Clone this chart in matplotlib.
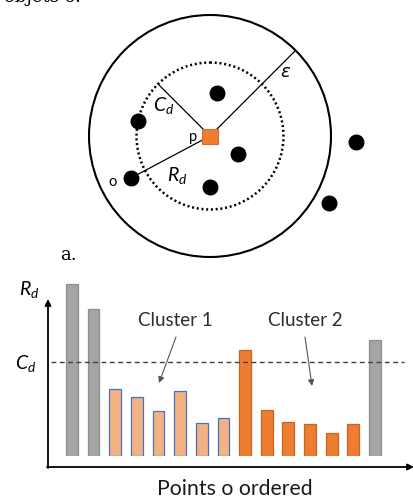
import numpy as np
import matplotlib
matplotlib.use('agg')
import matplotlib.pyplot as plt
from matplotlib.patches import Circle, Rectangle

plt.rcParams['font.family'] = ['Lato', 'DejaVu Sans']
plt.rcParams['mathtext.fontset'] = 'custom'
plt.rcParams['mathtext.it'] = 'Lato:italic'
plt.rcParams['mathtext.rm'] = 'Lato'

# neighbourhood sketch (pixel positions of the objects)
pt_x = [217, 138, 238, 210, 131, 356, 329]
pt_y = [93, 121, 154, 187, 178, 142, 203]
p_center = (210, 136)
eps_radius = 121
cd_radius = 73.5

# reachability bars
bar_heights = [172, 147, 67, 59, 45, 65, 33, 38, 106, 46, 34, 32, 23, 32, 116]
bar_groups = ['noise', 'noise', 'c1', 'c1', 'c1', 'c1', 'c1', 'c1',
              'c2', 'c2', 'c2', 'c2', 'c2', 'c2', 'noise']
cd_level = 94

fill = {'noise': '#a5a5a5', 'c1': '#f4b183', 'c2': '#ed7d31'}
edge = {'noise': '#8f8f8f', 'c1': '#4472c4', 'c2': '#c9651f'}

fig = plt.figure(figsize=(4.14, 5.04), dpi=100)
ax = fig.add_axes([0, 0, 1, 1])
ax.set_xlim(0, 414)
ax.set_ylim(504, 0)
ax.axis('off')

# cut-off caption line from the page above
ax.text(81, 2, 'objets o.', family='DejaVu Serif', fontsize=13,
        ha='right', va='baseline')

ax.add_patch(Circle(p_center, eps_radius, fill=False, lw=1.5, ec='black'))
ax.add_patch(Circle(p_center, cd_radius, fill=False, lw=1.8, ec='black',
                    ls=(0, (0.8, 1.1))))

cx, cy = p_center
c45 = np.cos(np.pi / 4)
ax.plot([cx, cx + eps_radius * c45], [cy, cy - eps_radius * c45], color='black', lw=0.9)
ax.plot([cx, cx - cd_radius * c45], [cy, cy - cd_radius * c45], color='black', lw=0.9)
ax.plot([cx, pt_x[4]], [cy, pt_y[4]], color='black', lw=0.9)

ax.add_patch(Rectangle((cx - 8, cy - 7.5), 16, 15, fc='#ed7d31', ec='#d0702c', lw=0.8, zorder=3))
ax.scatter(pt_x, pt_y, s=110, c='black', zorder=4)

ax.text(164, 106, r'$C_d$', fontsize=14, ha='center', va='center')
ax.text(285, 72, 'ε', family='DejaVu Sans', style='italic', fontsize=13, ha='center', va='center')
ax.text(193, 137, 'p', fontsize=10.5, ha='center', va='center')
ax.text(177, 175, r'$R_d$', fontsize=14, ha='center', va='center')
ax.text(113, 182, 'o', fontsize=10.5, ha='center', va='center')

ax.text(68, 255, 'a.', family='DejaVu Serif', fontsize=13, ha='center', va='center')

# bar chart
bx = fig.add_axes([48 / 414, 1 - 455.7 / 504, 366 / 414, 175.7 / 504])
bx.set_xlim(-1.094, 15.80)
bx.set_ylim(0, 175.7)
bx.axis('off')
xs = np.arange(len(bar_heights))
bx.bar(xs, bar_heights, width=0.54,
       color=[fill[g] for g in bar_groups],
       edgecolor=[edge[g] for g in bar_groups], linewidth=0.9)
bx.hlines(cd_level, -0.95, 15.35, colors='#404040', linestyles=(0, (3.5, 2.5)), lw=1.0, zorder=3)

ax.annotate('', xy=(48, 299), xytext=(48, 468),
            arrowprops=dict(arrowstyle='-|>', color='black', lw=1.3, mutation_scale=9,
                            shrinkA=0, shrinkB=0))
ax.annotate('', xy=(414, 467), xytext=(47, 467),
            arrowprops=dict(arrowstyle='-|>', color='black', lw=1.3, mutation_scale=9,
                            shrinkA=0, shrinkB=0))

ax.text(29, 290, r'$R_d$', fontsize=14, ha='center', va='center')
ax.text(26, 363, r'$C_d$', fontsize=14, ha='center', va='center')

ax.text(175, 320, 'Cluster 1', fontsize=13.5, ha='center', va='center', color='#2e2e2e')
ax.text(305, 320, 'Cluster 2', fontsize=13.5, ha='center', va='center', color='#2e2e2e')
ax.annotate('', xy=(159, 383), xytext=(176, 337),
            arrowprops=dict(arrowstyle='-|>', color='#555555', lw=0.8, mutation_scale=9,
                            shrinkA=0, shrinkB=0))
ax.annotate('', xy=(312, 386), xytext=(305, 337),
            arrowprops=dict(arrowstyle='-|>', color='#555555', lw=0.8, mutation_scale=9,
                            shrinkA=0, shrinkB=0))

ax.text(235, 489, 'Points o ordered', fontsize=15.3, ha='center', va='center', color='#1a1a1a')

fig.savefig('out.png', dpi=100)
